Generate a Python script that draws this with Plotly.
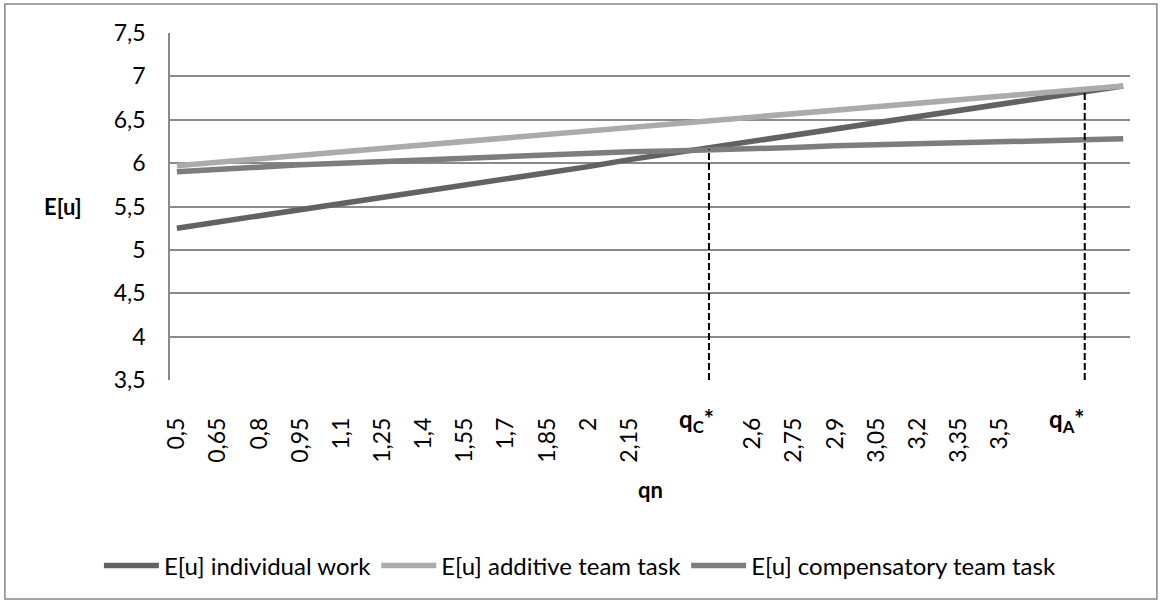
import plotly.graph_objects as go

# qn values (category step 0.15)
qn = [0.5, 0.65, 0.8, 0.95, 1.1, 1.25, 1.4, 1.55, 1.7, 1.85, 2.0, 2.15,
      2.3, 2.45, 2.6, 2.75, 2.9, 3.05, 3.2, 3.35, 3.5, 3.65, 3.8, 3.95]

eu_individual = [5.25, 5.32, 5.39, 5.46, 5.54, 5.61, 5.68, 5.75, 5.82, 5.89, 5.96, 6.04,
                 6.11, 6.18, 6.25, 6.32, 6.39, 6.46, 6.54, 6.61, 6.68, 6.75, 6.82, 6.89]
eu_additive = [5.97, 6.01, 6.05, 6.09, 6.13, 6.17, 6.21, 6.25, 6.29, 6.33, 6.37, 6.41,
               6.45, 6.49, 6.53, 6.57, 6.61, 6.65, 6.69, 6.73, 6.77, 6.81, 6.85, 6.89]
eu_compensatory = [5.90, 5.93, 5.96, 5.98, 6.00, 6.02, 6.04, 6.06, 6.08, 6.09, 6.11, 6.13,
                   6.14, 6.15, 6.17, 6.18, 6.20, 6.21, 6.22, 6.23, 6.25, 6.26, 6.27, 6.28]

# break-even points q_C*, q_A* and the utility level where they sit
q_star = [2.44, 3.81]
q_star_eu = [6.16, 6.82]
q_star_labels = ["<b>q<sub>C</sub>*</b>", "<b>q<sub>A</sub>*</b>"]

x_tick_vals = [0.5, 0.65, 0.8, 0.95, 1.1, 1.25, 1.4, 1.55, 1.7, 1.85, 2.0, 2.15,
               2.6, 2.75, 2.9, 3.05, 3.2, 3.35, 3.5]
x_tick_text = ["0,5", "0,65", "0,8", "0,95", "1,1", "1,25", "1,4", "1,55", "1,7", "1,85",
               "2", "2,15", "2,6", "2,75", "2,9", "3,05", "3,2", "3,35", "3,5"]
y_tick_vals = [3.5, 4, 4.5, 5, 5.5, 6, 6.5, 7, 7.5]
y_tick_text = ["3,5", "4", "4,5", "5", "5,5", "6", "6,5", "7", "7,5"]

FONT = "Lato, 'Open Sans', sans-serif"
GRID = "#8a8a8a"
Y_MIN = 3.5

fig = go.Figure()

series = [
    ("E[u] individual work", eu_individual, "#626262"),
    ("E[u] additive team task", eu_additive, "#ababab"),
    ("E[u] compensatory team task", eu_compensatory, "#7d7d7d"),
]
for name, ys, color in series:
    fig.add_trace(go.Scatter(
        x=qn, y=ys, name=name, mode="lines",
        line={"color": color, "width": 5.5},
    ))

# dashed drop lines for the break-even points
for q, eu in zip(q_star, q_star_eu):
    fig.add_trace(go.Scatter(
        x=[q, q], y=[Y_MIN, eu], mode="lines", showlegend=False,
        line={"color": "#000000", "width": 2, "dash": "7px,3px"},
        hoverinfo="skip",
    ))

annotations = [
    {"text": "<b>E[u]</b>", "xref": "paper", "yref": "paper", "x": -0.111, "y": 0.499,
     "xanchor": "center", "showarrow": False, "font": {"size": 22, "color": "#000"}},
    {"text": "<b>qn</b>", "xref": "paper", "yref": "paper", "x": 0.5, "y": -0.317,
     "xanchor": "center", "yanchor": "middle",
     "showarrow": False, "font": {"size": 22, "color": "#000"}},
]
for q, lab, shift in zip(q_star, q_star_labels, [-12, -18]):
    annotations.append({
        "text": lab, "xref": "x", "yref": "paper", "x": q, "y": -0.118,
        "xanchor": "center", "yanchor": "middle",
        "xshift": shift, "showarrow": False, "font": {"size": 24, "color": "#000"},
    })

fig.update_layout(
    width=1160, height=602,
    paper_bgcolor="white", plot_bgcolor="white",
    font={"family": FONT, "size": 23, "color": "#000"},
    margin={"l": 170, "r": 30, "t": 33, "b": 222},
    showlegend=True,
    legend={
        "orientation": "h", "x": 0.427, "xanchor": "center",
        "y": -0.536, "yanchor": "middle",
        "font": {"size": 24, "color": "#000"},
        "itemwidth": 55,
    },
    xaxis={
        "range": [0.475, 3.975],
        "tickmode": "array", "tickvals": x_tick_vals, "ticktext": x_tick_text,
        "tickangle": -90, "showgrid": False, "zeroline": False,
        "showline": False, "ticklabelstandoff": 32,
    },
    yaxis={
        "range": [3.5, 7.5],
        "tickmode": "array", "tickvals": y_tick_vals, "ticktext": y_tick_text,
        "showgrid": True, "gridcolor": GRID, "gridwidth": 1.5,
        "zeroline": False, "showline": True, "linecolor": GRID, "linewidth": 1.5,
        "ticklabelstandoff": 18,
    },
    annotations=annotations,
    shapes=[{
        "type": "rect", "xref": "paper", "yref": "paper",
        "x0": -0.172, "x1": 1.028, "y0": -0.631, "y1": 1.0836,
        "line": {"color": "#878787", "width": 1.5},
    }],
)

fig.write_html(
    "out.html",
    config={"displayModeBar": False},
    post_script="document.body.style.margin = '0';",
)
